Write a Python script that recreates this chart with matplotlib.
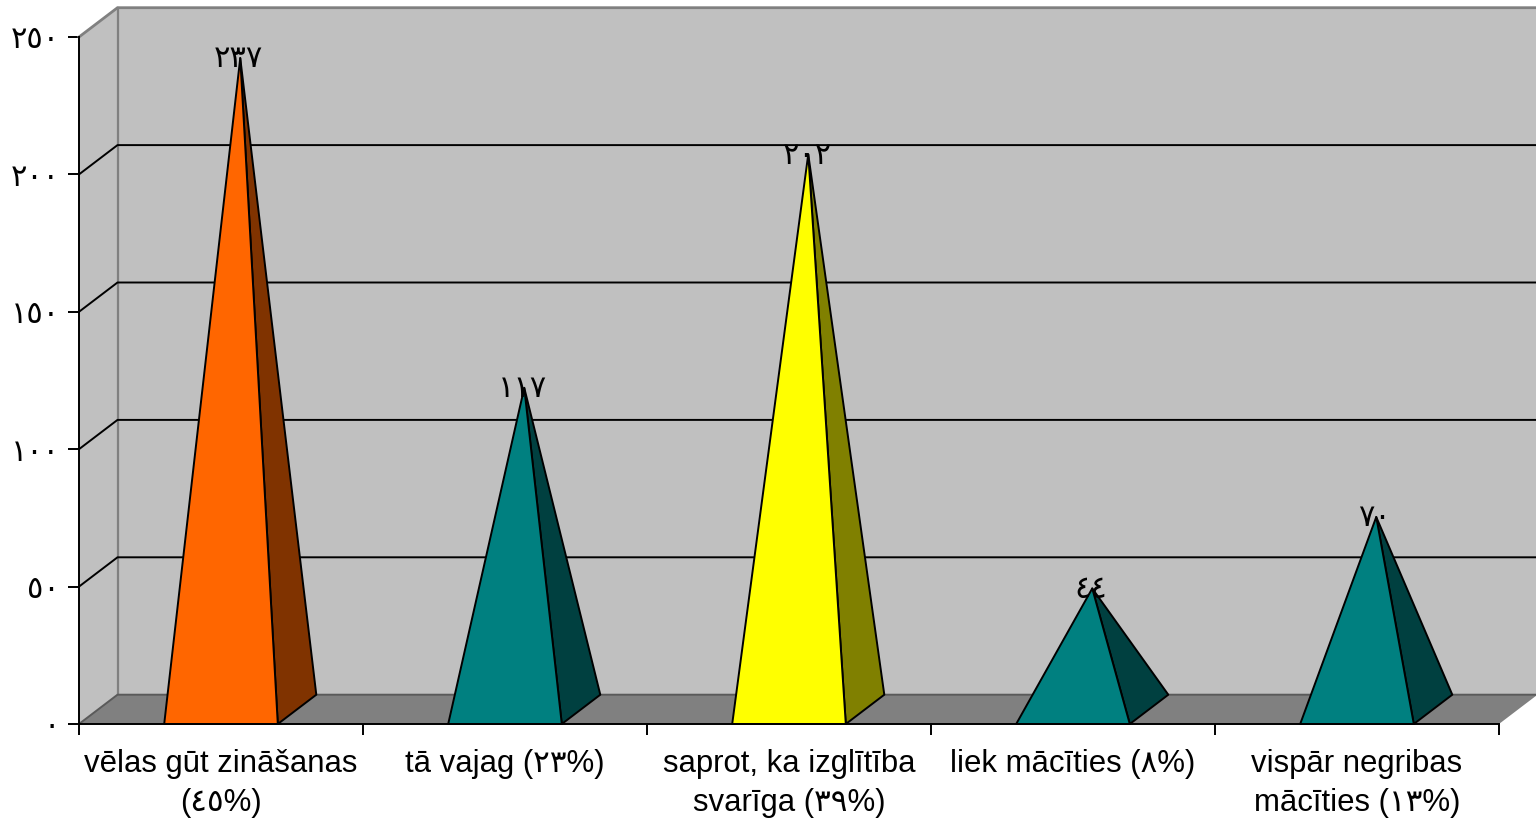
"""Pyramid column chart with an oblique 3D look, drawn with plain matplotlib patches."""

import matplotlib

matplotlib.use("Agg")

import matplotlib.pyplot as plt
from matplotlib.patches import Polygon

categories = [
    "vēlas gūt zināšanas\n(٤٥%)",
    "tā vajag (٢٣%)",
    "saprot, ka izglītība\nsvarīga (٣٩%)",
    "liek mācīties (٨%)",
    "vispār negribas\nmācīties (١٣%)",
]
values = [237, 117, 202, 44, 70]
front_colors = ["#FF6600", "#008080", "#FFFF00", "#008080", "#008080"]
side_colors = ["#803300", "#004040", "#808000", "#004040", "#004040"]
y_ticks = [0, 50, 100, 150, 200, 250]

WALL_COLOR = "#C0C0C0"
FLOOR_COLOR = "#808080"
EDGE_GREY = "#808080"

# depth of the fake 3D box, in data units
DEPTH_X = 38.5 / 284
DEPTH_Y = 29.3 / 2.748
BASE_WIDTH = 0.4
LINE = 1.4

FONT = ["Liberation Sans", "DejaVu Sans"]
ARABIC_DIGITS = str.maketrans("0123456789", "٠١٢٣٤٥٦٧٨٩")


def arabic(number):
    return str(number).translate(ARABIC_DIGITS)


fig = plt.figure(figsize=(15.36, 8.21), dpi=100, facecolor="white")
ax = fig.add_axes([79 / 1536, 1 - 724 / 821, 1420 / 1536, 687 / 821])
ax.set_xlim(0, len(values))
ax.set_ylim(0, 250)
ax.patch.set_visible(False)


def add_poly(points, color, edge="none", lw=0.0, z=1):
    ax.add_patch(Polygon(points, closed=True, facecolor=color, edgecolor=edge,
                         linewidth=lw, zorder=z, clip_on=False, joinstyle="round"))


n = len(values)
top = y_ticks[-1]

# walls and floor
add_poly([(DEPTH_X, DEPTH_Y), (n + DEPTH_X, DEPTH_Y), (n + DEPTH_X, top + DEPTH_Y), (DEPTH_X, top + DEPTH_Y)],
         WALL_COLOR, z=1)
add_poly([(0, 0), (DEPTH_X, DEPTH_Y), (DEPTH_X, top + DEPTH_Y), (0, top)], WALL_COLOR, z=1)
add_poly([(0, 0), (n, 0), (n + DEPTH_X, DEPTH_Y), (DEPTH_X, DEPTH_Y)], FLOOR_COLOR, z=1)

# grey box edges
ax.plot([0, DEPTH_X, n + DEPTH_X], [top, top + DEPTH_Y, top + DEPTH_Y], color=EDGE_GREY, lw=2.0,
        clip_on=False, zorder=2, solid_joinstyle="miter")
ax.plot([DEPTH_X, DEPTH_X], [DEPTH_Y, top + DEPTH_Y], color=EDGE_GREY, lw=1.6, clip_on=False, zorder=2)
ax.plot([0, DEPTH_X, n + DEPTH_X], [0, DEPTH_Y, DEPTH_Y], color="#5A5A5A", lw=1.4, clip_on=False, zorder=2)

# gridlines run along the side wall and the back wall
for tick in y_ticks[1:-1]:
    ax.plot([0, DEPTH_X, n + DEPTH_X], [tick, tick + DEPTH_Y, tick + DEPTH_Y], color="black", lw=LINE,
            clip_on=False, zorder=3)

# pyramids
for i, value in enumerate(values):
    left = i + 0.5 - BASE_WIDTH / 2
    right = i + 0.5 + BASE_WIDTH / 2
    apex = (i + 0.5 + DEPTH_X / 2, value + DEPTH_Y / 2)
    add_poly([(right, 0), (right + DEPTH_X, DEPTH_Y), apex], side_colors[i], "black", LINE, z=4)
    add_poly([(left, 0), (right, 0), apex], front_colors[i], "black", LINE, z=5)
    ax.text(apex[0] - 0.005, apex[1] - 0.5, arabic(value), ha="center", va="center", fontsize=22,
            family=FONT, color="black", zorder=6)

# axes
for side in ("top", "right"):
    ax.spines[side].set_visible(False)
for side in ("left", "bottom"):
    ax.spines[side].set_color("black")
    ax.spines[side].set_linewidth(LINE)
    ax.spines[side].set_zorder(7)

ax.set_yticks(y_ticks)
ax.set_yticklabels([arabic(t) for t in y_ticks], fontsize=22, family=FONT)
ax.tick_params(axis="y", length=8, width=LINE, pad=6)

ax.set_xticks(range(n + 1))
ax.set_xticklabels([])
ax.tick_params(axis="x", which="major", length=8, width=LINE)
ax.set_xticks([i + 0.5 for i in range(n)], minor=True)
ax.set_xticklabels(categories, minor=True, fontsize=22.4, family=FONT, linespacing=1.38)
ax.tick_params(axis="x", which="minor", length=0, pad=18)

fig.savefig("out.png", dpi=100, facecolor="white")
